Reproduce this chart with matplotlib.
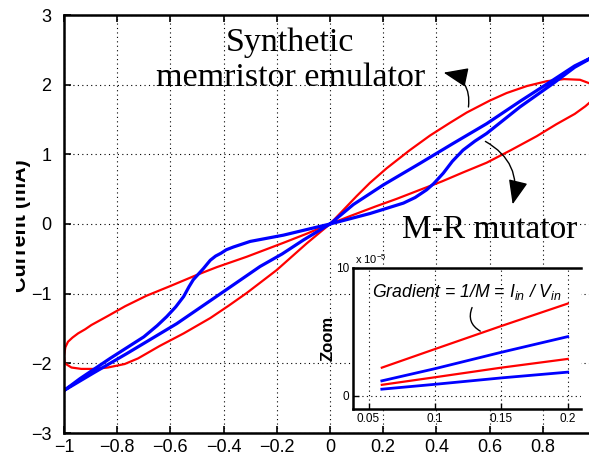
import matplotlib
matplotlib.use('Agg')
import matplotlib.pyplot as plt
from matplotlib.patches import Rectangle

plt.rcParams['font.family'] = ['Liberation Sans', 'DejaVu Sans']
plt.rcParams['mathtext.fontset'] = 'custom'
plt.rcParams['mathtext.it'] = 'Liberation Sans:italic'
plt.rcParams['mathtext.rm'] = 'Liberation Sans'

# synthetic memristor emulator loop (V, mA)
red_v = [0, 0.05, 0.1, 0.15, 0.213, 0.3, 0.376, 0.45, 0.514, 0.6, 0.664, 0.74, 0.815, 0.88,
         0.94, 0.975, 0.995, 1.0, 0.99, 0.96, 0.92, 0.85, 0.777, 0.68, 0.589, 0.5, 0.42,
         0.338, 0.25, 0.17, 0.08, 0,
         -0.088, -0.2, -0.313, -0.38, -0.45, -0.55, -0.64, -0.69, -0.722, -0.772, -0.835, -0.885,
         -0.935, -0.972, -0.997, -1.0, -0.995, -0.985, -0.968, -0.947, -0.92, -0.897, -0.835,
         -0.77, -0.69, -0.6, -0.5, -0.426, -0.313, -0.175, -0.088, 0]
red_i = [0, 0.2, 0.4, 0.59, 0.8, 1.06, 1.27, 1.45, 1.6, 1.77, 1.88, 1.98, 2.05, 2.08,
         2.07, 2.02, 1.95, 1.88, 1.79, 1.69, 1.58, 1.43, 1.26, 1.06, 0.88, 0.74, 0.61,
         0.49, 0.36, 0.25, 0.12, 0,
         -0.28, -0.66, -0.99, -1.17, -1.35, -1.57, -1.75, -1.86, -1.93, -2.01, -2.06, -2.08,
         -2.08, -2.06, -2.0, -1.9, -1.77, -1.69, -1.63, -1.57, -1.51, -1.45, -1.32,
         -1.18, -1.03, -0.89, -0.73, -0.62, -0.47, -0.27, -0.14, 0]

# M-R mutator loop
blue_v = [0, 0.088, 0.2, 0.338, 0.46, 0.589, 0.714, 0.84, 0.92, 1.0,
          0.92, 0.84, 0.714, 0.589, 0.545, 0.5, 0.46, 0.426, 0.39, 0.363, 0.32, 0.276, 0.15, 0.05, 0,
          -0.088, -0.175, -0.3, -0.363, -0.39, -0.41, -0.43, -0.45, -0.463, -0.476, -0.495, -0.514,
          -0.53, -0.55, -0.58, -0.614, -0.65, -0.7, -0.827, -0.94, -1.0,
          -0.89, -0.764, -0.576, -0.4, -0.263, -0.18, -0.1, 0]
blue_i = [0, 0.28, 0.56, 0.87, 1.15, 1.44, 1.76, 2.07, 2.27, 2.42,
          2.25, 2.02, 1.68, 1.3, 1.19, 1.06, 0.9, 0.73, 0.58, 0.49, 0.38, 0.3, 0.15, 0.05, 0,
          -0.08, -0.16, -0.25, -0.33, -0.37, -0.42, -0.46, -0.52, -0.58, -0.64, -0.72, -0.8,
          -0.9, -1.04, -1.19, -1.33, -1.46, -1.62, -1.93, -2.22, -2.39,
          -2.14, -1.86, -1.43, -0.97, -0.61, -0.43, -0.23, 0]

# zoomed gradients (x1e-5)
zoom_v = [0.06, 0.1, 0.15, 0.2]
zoom_red_hi = [2.2, 3.65, 5.45, 7.2]
zoom_blue_hi = [1.17, 2.12, 3.4, 4.62]
zoom_red_lo = [0.86, 1.45, 2.2, 2.88]
zoom_blue_lo = [0.52, 0.9, 1.4, 1.85]

xticks = [-1, -0.8, -0.6, -0.4, -0.2, 0, 0.2, 0.4, 0.6, 0.8]
xticklabels = ['\u22121', '\u22120.8', '\u22120.6', '\u22120.4', '\u22120.2', '0', '0.2', '0.4', '0.6', '0.8']
yticks = [-3, -2, -1, 0, 1, 2, 3]
yticklabels = ['\u22123', '\u22122', '\u22121', '0', '1', '2', '3']
zoom_xticks = [0.05, 0.1, 0.15, 0.2]
zoom_xticklabels = ['0.05', '0.1', '0.15', '0.2']

W, H = 589, 457
fig = plt.figure(figsize=(W / 100, H / 100), dpi=100)

ax = fig.add_axes([64 / W, 24 / H, 532 / W, 418 / H])
ax.plot(red_v, red_i, color='#ff0000', lw=1.6)
ax.plot(blue_v, blue_i, color='#0000ff', lw=2.3)
ax.set_xlim(-1, 1)
ax.set_ylim(-3, 3)
ax.set_xticks(xticks)
ax.set_xticklabels(xticklabels)
ax.set_yticks(yticks)
ax.set_yticklabels(yticklabels)
ax.tick_params(direction='in', top=True, right=True, length=5, width=1.2, labelsize=13)
ax.tick_params(axis='x', pad=4)
ax.tick_params(axis='y', pad=9)
ax.grid(True, color='k', linestyle=(0, (1, 3)), lw=0.8)
for s in ax.spines.values():
    s.set_linewidth(1.8)

txt = fig.text(31 / W, (H - 226) / H, 'Current (mA)', rotation=90, ha='right', va='center',
               fontsize=15.5, fontweight='bold')
txt.set_clip_path(Rectangle((16 / W, 0), 1, 1, transform=fig.transFigure))

ax.text(-0.15, 2.35, 'Synthetic\nmemristor emulator', ha='center', va='center',
        fontsize=24.5, family='Liberation Serif', linespacing=1.2)
ax.text(0.271, -0.2, 'M-R mutator', ha='left', va='baseline',
        fontsize=24, family='Liberation Serif')
ax.annotate('', xy=(0.417, 2.18), xytext=(0.519, 1.64),
            arrowprops=dict(arrowstyle='-|>,head_length=0.75,head_width=0.3', mutation_scale=20,
                            color='k', lw=1, connectionstyle='arc3,rad=0.5'))
ax.annotate('', xy=(0.684, 0.244), xytext=(0.575, 1.205),
            arrowprops=dict(arrowstyle='-|>,head_length=0.75,head_width=0.3', mutation_scale=20,
                            color='k', lw=1, connectionstyle='arc3,rad=-0.4'))

axin = fig.add_axes([353 / W, (H - 409.3) / H, (581 - 353) / W, (409.3 - 267.7) / H])
axin.plot(zoom_v, zoom_red_hi, color='#ff0000', lw=1.6)
axin.plot(zoom_v, zoom_blue_hi, color='#0000ff', lw=2.0)
axin.plot(zoom_v, zoom_red_lo, color='#ff0000', lw=1.6)
axin.plot(zoom_v, zoom_blue_lo, color='#0000ff', lw=2.0)
axin.set_xlim(0.0383, 0.21)
axin.set_ylim(-1.05, 10)
axin.set_xticks(zoom_xticks)
axin.set_xticklabels(zoom_xticklabels)
axin.set_yticks([0, 10])
axin.set_yticklabels(['0', '10'])
axin.tick_params(direction='in', top=False, right=False, length=4, width=1, labelsize=8.5, pad=3)
axin.grid(True, color='k', linestyle=(0, (1, 3)), lw=0.8)
axin.spines['right'].set_visible(False)
for s in ['left', 'top', 'bottom']:
    axin.spines[s].set_linewidth(1.8)
axin.text(0.0395, 10.1, 'x 10$^{-5}$', fontsize=8, ha='left', va='bottom')
axin.set_ylabel('Zoom', fontsize=12, fontweight='bold', labelpad=0)
axin.text(0.0528, 7.74, 'Gradient = 1/M = $I_{in}$ / $V_{in}$', fontsize=12.7, style='italic',
          ha='left', va='baseline')
axin.annotate('', xy=(0.136, 4.95), xytext=(0.1288, 7.09),
              arrowprops=dict(arrowstyle='-', color='k', lw=1, connectionstyle='arc3,rad=0.5'))

fig.savefig('out.png', dpi=100)
